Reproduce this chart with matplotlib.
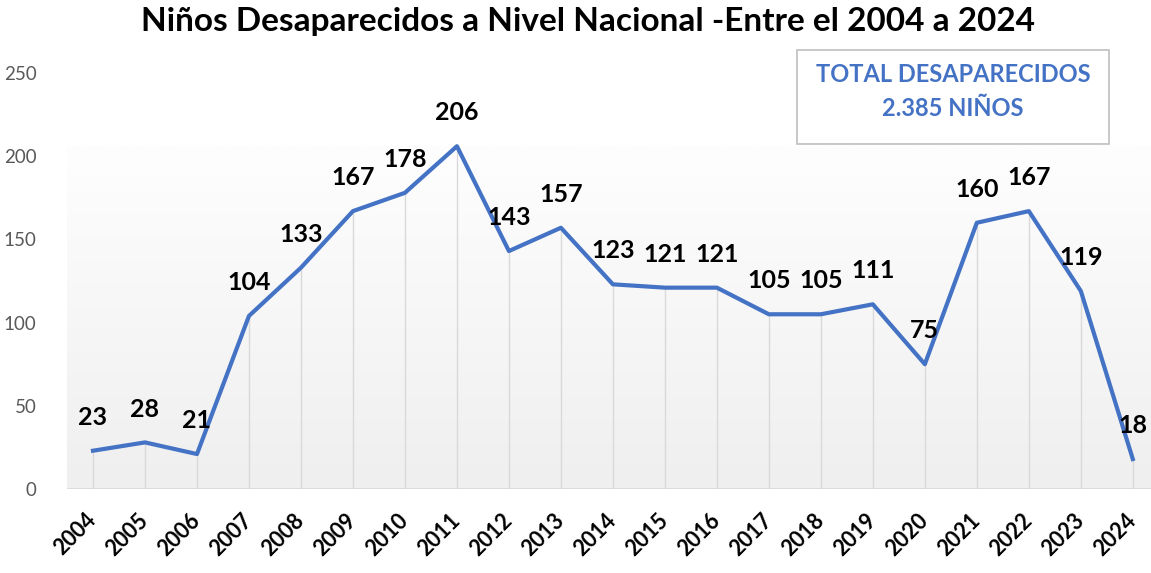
import numpy as np
import matplotlib.pyplot as plt
from matplotlib.patches import Rectangle

years = ['2004', '2005', '2006', '2007', '2008', '2009', '2010', '2011', '2012', '2013',
         '2014', '2015', '2016', '2017', '2018', '2019', '2020', '2021', '2022', '2023', '2024']
ninos = [23, 28, 21, 104, 133, 167, 178, 206, 143, 157,
         123, 121, 121, 105, 105, 111, 75, 160, 167, 119, 18]
y_ticks = [0, 50, 100, 150, 200, 250]

plt.rcParams['font.family'] = ['Lato', 'DejaVu Sans']

fig = plt.figure(figsize=(11.51, 5.73), dpi=100)
ax = fig.add_axes([67 / 1151, 84 / 573, 1084 / 1151, 416 / 573])

x = np.arange(len(years))

# fondo degradado
grad = np.linspace(0, 1, 256).reshape(-1, 1)
ax.imshow(grad, extent=[-0.5, 21, 0, max(ninos) + 0.7], aspect='auto',
          cmap=plt.matplotlib.colors.LinearSegmentedColormap.from_list('g', ['#efefef', '#fefefe']),
          origin='lower', zorder=0)

ax.vlines(x, 0, ninos, color='#d9d9d9', lw=1, zorder=1)
ax.axhline(0, color='#d9d9d9', lw=1.2, zorder=1)
ax.plot(x, ninos, color='#4472C4', lw=3, zorder=3, solid_joinstyle='round')

for xi, v in zip(x, ninos):
    ax.annotate(str(v), (xi, v), xytext=(0, 24), textcoords='offset points',
                ha='center', va='center', fontsize=18, fontweight='bold', color='black', zorder=4)

ax.set_xlim(-0.5, 20.35)
ax.set_ylim(0, 250)
ax.set_xticks(x)
ax.set_xticklabels(years, rotation=45, ha='right', va='center', rotation_mode='anchor',
                   fontsize=15.5, fontweight='bold')
ax.set_yticks(y_ticks)
ax.tick_params(axis='y', labelsize=13.5, labelcolor='#595959', length=0, pad=22)
ax.tick_params(axis='x', length=0, pad=20)
for s in ax.spines.values():
    s.set_visible(False)
ax.set_facecolor('white')

fig.text(588 / 1151, 1 - 22 / 573, 'Niños Desaparecidos a Nivel Nacional -Entre el 2004 a 2024',
         ha='center', va='center', fontsize=24, fontweight='bold')

fig.patches.append(Rectangle((797 / 1151, 1 - 144 / 573), 312 / 1151, 94 / 573,
                             transform=fig.transFigure, facecolor='white',
                             edgecolor='#bfbfbf', lw=1.2, zorder=5))
fig.text(953 / 1151, 1 - 75 / 573, 'TOTAL DESAPARECIDOS', ha='center', va='center',
         fontsize=17, fontweight='bold', color='#4472C4', zorder=6)
fig.text(953 / 1151, 1 - 108 / 573, '2.385 NIÑOS', ha='center', va='center',
         fontsize=17, fontweight='bold', color='#4472C4', zorder=6)

fig.savefig('out.png', dpi=100)
